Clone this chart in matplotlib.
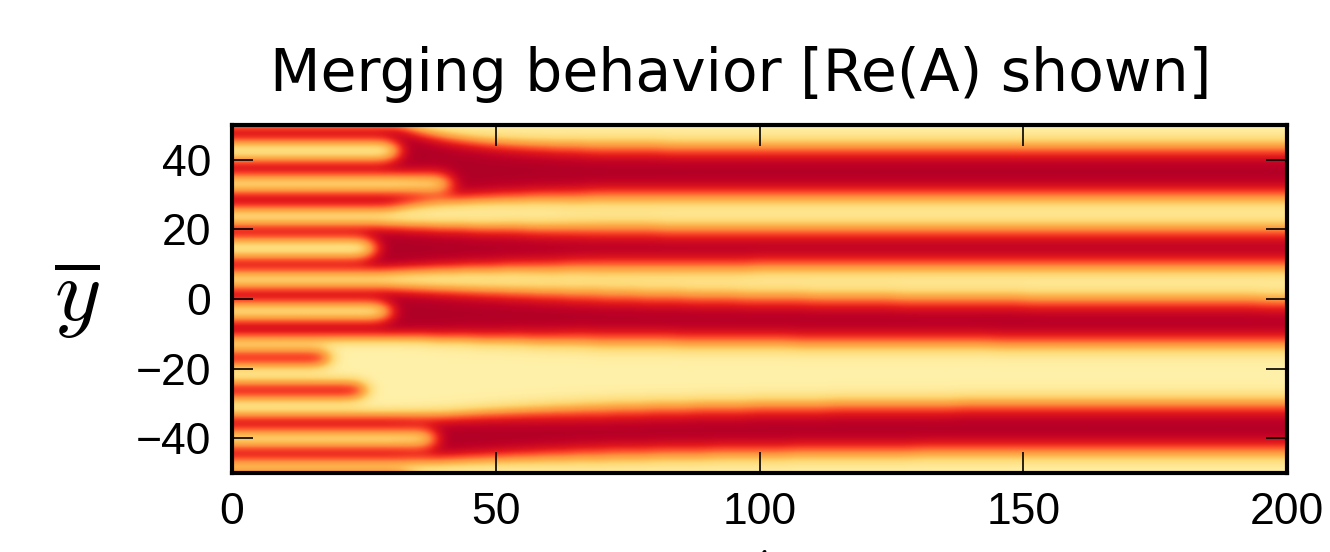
import numpy as np
import matplotlib

matplotlib.use("Agg")
import matplotlib.pyplot as plt
from matplotlib.colors import ListedColormap

# --- data (y in units of y-bar, t in time units) ---
# dark bands: edges at the start, edges at the end, when / how fast they settle
dark_lo_start = [26.0, 7.6, -11.0, -46.6]
dark_hi_start = [50.8, 21.3, 3.3, -33.7]
dark_lo_end = [29.4, 9.3, -13.0, -43.7]
dark_hi_end = [43.4, 19.9, -0.7, -30.2]
settle_from = [30.0, 28.0, 30.0, 39.0]
settle_time = [12.0, 20.0, 55.0, 40.0]

# light fingers inside the dark bands, and where they die out
light_finger_y = [42.5, 33.0, 14.5, -3.7, -40.2]
light_finger_hw = [2.5, 2.1, 2.5, 2.2, 2.2]
light_finger_end = [32.0, 42.0, 27.5, 30.5, 39.0]

# dark fingers inside the broad light band
dark_finger_y = [-17.0, -26.3]
dark_finger_hw = [1.95, 1.95]
dark_finger_end = [19.0, 26.0]

t_ticks = [0, 50, 100, 150, 200]
y_ticks = [-40, -20, 0, 20, 40]

t = np.linspace(0, 200, 801)
y = np.linspace(-50, 50, 400, endpoint=False)
T, Y = np.meshgrid(t, y)

field = np.zeros_like(T)
for lo0, hi0, lo1, hi1, t0, tau in zip(
    dark_lo_start, dark_hi_start, dark_lo_end, dark_hi_end, settle_from, settle_time
):
    decay = np.where(t > t0, np.exp(-(t - t0) / tau), 1.0)
    lo = lo1 + (lo0 - lo1) * decay
    hi = hi1 + (hi0 - hi1) * decay
    field[(Y >= lo[None, :]) & (Y <= hi[None, :])] = 1.0

for yc, hw, te in zip(light_finger_y, light_finger_hw, light_finger_end):
    tip = np.clip((te - T) / 3.0, 0, 1)
    width = hw * np.sqrt(tip)
    field[(np.abs(Y - yc) <= width) & (T <= te)] = 0.0

for yc, hw, te in zip(dark_finger_y, dark_finger_hw, dark_finger_end):
    tip = np.clip((te - T) / 3.0, 0, 1)
    width = hw * np.sqrt(tip)
    field[(np.abs(Y - yc) <= width) & (T <= te)] = 1.0


# soften the edges: periodic in y (narrow stripes early, wider bands late), clamped in t
def blur_y(a, sigma):
    ky = np.fft.fftfreq(a.shape[0], d=y[1] - y[0])
    kernel = np.exp(-2 * (np.pi * ky * sigma) ** 2)[:, None]
    return np.real(np.fft.ifft(np.fft.fft(a, axis=0) * kernel, axis=0))


late = np.clip((t - 30) / 40, 0, 1)[None, :]
field = blur_y(field, 1.9) * (1 - late) + blur_y(field, 2.9) * late
dt = np.abs(t[:, None] - t[None, :])
kt = np.exp(-0.5 * (dt / 1.5) ** 2)
kt /= kt.sum(axis=0, keepdims=True)
field = field @ kt

cmap = ListedColormap(plt.get_cmap("YlOrRd")(np.linspace(0.1, 0.9, 256)))

fig = plt.figure(figsize=(13.3, 5.52), dpi=100)
ax = fig.add_axes([232 / 1330, 1 - 473 / 552, (1287 - 232) / 1330, (473 - 125) / 552])
ax.imshow(
    field,
    extent=[t[0], t[-1], -50, 50],
    origin="lower",
    aspect="auto",
    cmap=cmap,
    vmin=0,
    vmax=1,
    interpolation="bilinear",
)
ax.set_xlim(0, 200)
ax.set_ylim(-50, 50)
ax.set_xticks(t_ticks)
ax.set_yticks(y_ticks)
ax.set_yticklabels([f"{v}".replace("-", "\u2212") for v in y_ticks])
ax.tick_params(
    direction="in", length=15, width=1.2, top=True, right=True,
    labelsize=32, color="black",
)
ax.tick_params(axis="y", pad=15)
ax.tick_params(axis="x", pad=14)
for label in ax.get_xticklabels() + ax.get_yticklabels():
    label.set_family("Liberation Sans")
for spine in ax.spines.values():
    spine.set_linewidth(3.0)

fig.text(741 / 1330, 1 - 91 / 552, "Merging behavior [Re(A) shown]",
         ha="center", va="baseline", fontsize=42, family="DejaVu Sans")
fig.text(77 / 1330, 1 - 298 / 552, r"$\overline{y}$", ha="center", va="center",
         fontsize=64, math_fontfamily="cm")
fig.text(761 / 1330, 1 - 543 / 552, r"$t$", ha="center", va="top",
         fontsize=40, math_fontfamily="cm")

fig.savefig("out.png", dpi=100)
